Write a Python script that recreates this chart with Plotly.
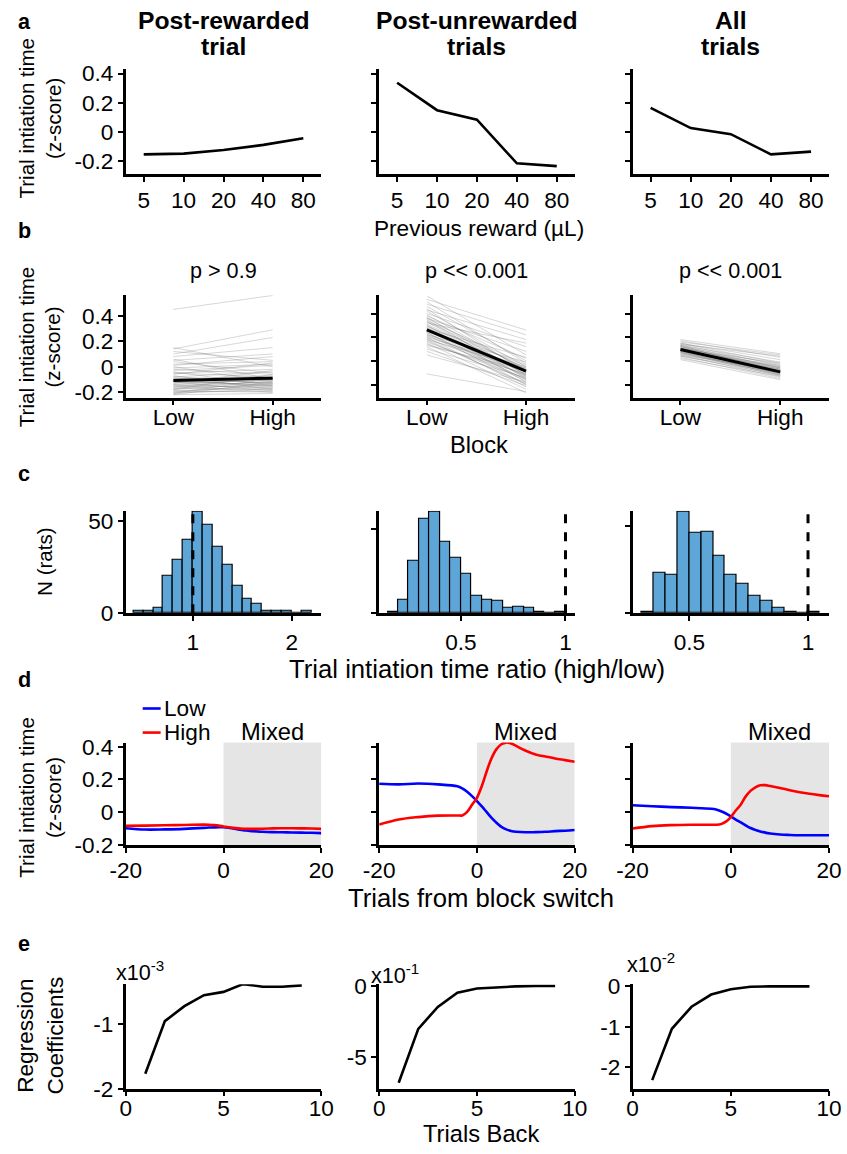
import plotly.graph_objects as go

W, H = 847, 1154

# ---------------- data ----------------
reward_labels = ['5', '10', '20', '40', '80']
a_post_rewarded = [-0.156, -0.151, -0.126, -0.091, -0.045]
a_post_unrewarded = [0.337, 0.148, 0.083, -0.218, -0.237]
a_all = [0.164, 0.025, -0.017, -0.156, -0.137]

block_labels = ['Low', 'High']
b1_low = [0.45, 0.15, 0.14, 0.12, 0.10, 0.08, 0.06, 0.05, 0.04, 0.02, 0.01, 0.00, -0.01, -0.02, -0.03,
          -0.04, -0.05, -0.05, -0.06, -0.07, -0.08, -0.08, -0.09, -0.10, -0.10, -0.11, -0.12, -0.12,
          -0.13, -0.13, -0.14, -0.15, -0.15, -0.16, -0.16, -0.17, -0.17, -0.18, -0.18, -0.19, -0.19,
          -0.20, -0.20, -0.21, -0.21, -0.22, -0.22, -0.14, -0.11, -0.09]
b1_high = [0.56, 0.00, 0.29, 0.05, 0.23, 0.15, -0.10, 0.10, -0.05, 0.04, 0.08, -0.12, 0.02, -0.06, 0.01,
           -0.15, -0.02, -0.08, 0.03, -0.18, -0.04, -0.11, -0.13, -0.07, -0.16, -0.09, -0.14, -0.19,
           -0.10, -0.03, -0.17, -0.12, -0.20, -0.08, -0.15, -0.11, -0.18, -0.13, -0.06, -0.16, -0.20,
           -0.14, -0.19, -0.09, -0.17, -0.12, -0.21, -0.10, -0.15, -0.13]
b1_mean = [-0.108, -0.090]
b2_low = [0.55, 0.52, 0.50, 0.48, 0.46, 0.44, 0.43, 0.42, 0.40, 0.39, 0.38, 0.37, 0.36, 0.35, 0.34,
          0.33, 0.32, 0.31, 0.30, 0.30, 0.29, 0.28, 0.27, 0.26, 0.26, 0.25, 0.24, 0.23, 0.22, 0.22,
          0.21, 0.20, 0.19, 0.18, 0.17, 0.16, 0.15, 0.14, 0.13, 0.12, 0.10, 0.08, 0.05, -0.11, 0.28,
          0.24, 0.20, 0.33, 0.36, 0.18]
b2_high = [0.05, 0.26, -0.02, 0.22, 0.00, -0.10, 0.18, -0.05, 0.12, -0.08, 0.02, -0.12, 0.08, -0.15,
           -0.03, -0.06, 0.15, -0.09, -0.18, -0.11, -0.04, -0.14, 0.03, -0.07, -0.16, -0.10, -0.20,
           -0.13, -0.01, -0.17, -0.09, -0.22, -0.12, -0.06, -0.19, -0.15, -0.24, -0.11, -0.08, -0.27,
           -0.14, -0.21, -0.18, -0.26, -0.13, -0.16, -0.05, -0.12, -0.07, -0.20]
b2_mean = [0.262, -0.087]
b3_low = [0.18, 0.17, 0.16, 0.15, 0.15, 0.14, 0.14, 0.13, 0.13, 0.12, 0.12, 0.11, 0.11, 0.10, 0.10,
          0.10, 0.09, 0.09, 0.09, 0.08, 0.08, 0.08, 0.07, 0.07, 0.07, 0.06, 0.06, 0.05, 0.05, 0.04,
          0.04, 0.03, 0.02, 0.01, 0.11, 0.12, 0.10, 0.09, 0.08, 0.13]
b3_high = [0.06, 0.03, 0.05, -0.02, 0.01, -0.04, 0.04, -0.06, -0.01, -0.08, -0.03, -0.05, -0.10,
           -0.07, -0.02, -0.09, -0.04, -0.11, -0.06, -0.08, -0.12, -0.05, -0.10, -0.07, -0.13, -0.09,
           -0.11, -0.14, -0.08, -0.12, -0.10, -0.15, -0.13, -0.16, -0.06, -0.09, -0.11, -0.07, -0.12, -0.10]
b3_mean = [0.096, -0.093]

c1_bin_left = [0.4, 0.5, 0.6, 0.7, 0.8, 0.9, 1.0, 1.1, 1.2, 1.3, 1.4, 1.5, 1.6, 1.7, 1.8, 1.9, 2.0, 2.1]
c1_counts = [1, 1, 3, 20, 29, 40, 55, 48, 36, 26, 15, 8, 5, 1, 1, 1, 0, 1]
c1_width = 0.1
c2_bin_left = [0.15, 0.20, 0.25, 0.30, 0.35, 0.40, 0.45, 0.50, 0.55, 0.60, 0.65, 0.70, 0.75, 0.80,
               0.85, 0.90, 0.95]
c2_counts = [1, 8, 31, 56, 60, 42, 33, 23, 10, 8, 7, 3, 4, 3, 1, 0, 1]
c2_width = 0.05
c3_bin_left = [0.30, 0.35, 0.40, 0.45, 0.50, 0.55, 0.60, 0.65, 0.70, 0.75, 0.80, 0.85, 0.90, 0.95, 1.00]
c3_counts = [1, 23, 22, 58, 46, 47, 33, 22, 17, 10, 7, 3, 1, 0, 1]
c3_width = 0.05

trials = [-20, -16, -12, -8, -4, -3, -2, -1, 0, 1, 2, 3, 4, 5, 6, 7, 8, 10, 12, 14, 16, 18, 20]
d1_low = [-0.098, -0.106, -0.105, -0.102, -0.096, -0.094, -0.093, -0.092, -0.092, -0.095, -0.100,
          -0.105, -0.110, -0.113, -0.116, -0.118, -0.120, -0.122, -0.123, -0.124, -0.125, -0.126, -0.128]
d1_high = [-0.084, -0.082, -0.080, -0.078, -0.076, -0.077, -0.079, -0.082, -0.087, -0.092, -0.096,
           -0.099, -0.101, -0.102, -0.102, -0.102, -0.101, -0.099, -0.098, -0.098, -0.099, -0.100, -0.102]
d2_low = [0.174, 0.170, 0.175, 0.170, 0.158, 0.145, 0.125, 0.098, 0.068, 0.035, 0.000, -0.035,
          -0.065, -0.090, -0.105, -0.115, -0.120, -0.123, -0.122, -0.120, -0.116, -0.113, -0.109]
d2_high = [-0.076, -0.045, -0.030, -0.021, -0.020, -0.020, 0.002, 0.045, 0.088, 0.160, 0.250, 0.330,
           0.385, 0.415, 0.425, 0.420, 0.405, 0.375, 0.352, 0.340, 0.328, 0.318, 0.308]
d3_low = [0.042, 0.036, 0.031, 0.027, 0.021, 0.016, 0.006, -0.008, -0.026, -0.045, -0.062, -0.080,
          -0.097, -0.108, -0.118, -0.125, -0.130, -0.136, -0.139, -0.141, -0.141, -0.141, -0.141]
d3_high = [-0.100, -0.085, -0.079, -0.077, -0.077, -0.077, -0.073, -0.058, -0.030, 0.010, 0.045,
           0.095, 0.130, 0.152, 0.164, 0.165, 0.160, 0.148, 0.134, 0.122, 0.112, 0.104, 0.097]

trials_back = [1, 2, 3, 4, 5, 6, 7, 8, 9]
e_post_rewarded = [-1.77, -0.96, -0.73, -0.56, -0.51, -0.39, -0.43, -0.43, -0.41]
e_post_unrewarded = [-6.77, -3.00, -1.46, -0.47, -0.17, -0.09, -0.02, 0.00, 0.00]
e_all = [-2.31, -1.05, -0.51, -0.21, -0.08, -0.02, -0.01, -0.01, -0.01]

# ---------------- placement helpers ----------------
# the photographed page shows a small border around the figure; targets below are
# positions in the final picture and are converted to page pixels here.
SX, OX = 0.968, 14.0
SY, OY = 0.977, 12.7
FS = 1 / 0.972


def tx(t):
    return (t - OX) / SX


def ty(t):
    return (t - OY) / SY


def fs(s):
    return round(s * FS, 1)


NARROW = "Liberation Sans Narrow, Arial Narrow, Liberation Sans, Arial, sans-serif"
SANS = "Liberation Sans, Arial, Helvetica, sans-serif"
TICK_SIZE = fs(22)
BLUE_BAR = '#5fa6d8'
LOW_COLOR = '#0000ff'
HIGH_COLOR = '#ff0000'

cols = [(124, 320), (378, 574), (632, 829)]
rows = {'a': (72, 176), 'b': (297, 399), 'c': (512, 614), 'd': (743, 845), 'e': (984, 1088)}
x_standoff = {'a': -1, 'b': -7, 'c': 2, 'd': -2, 'e': -8}

fig = go.Figure()
layout_axes = {}


def ids(k):
    return ('x' if k == 1 else f'x{k}'), ('y' if k == 1 else f'y{k}')


def add_axes(k, col, row, xr, yr, xtv=None, xtt=None, ytv=None, ytt=None, xtype='linear',
             show_xlabels=True, show_ylabels=True):
    xid, yid = ids(k)
    x0, x1 = cols[col]
    y0, y1 = rows[row]
    common = dict(showline=True, linecolor='black', linewidth=2.6, ticks='outside', ticklen=5,
                  tickwidth=2, tickcolor='black', showgrid=False, zeroline=False,
                  tickfont=dict(family=NARROW, size=TICK_SIZE, color='black'), fixedrange=True)
    xa = dict(domain=[tx(x0) / W, tx(x1) / W], range=xr, anchor=yid, type=xtype,
              showticklabels=show_xlabels, ticklabelstandoff=x_standoff[row], **common)
    if xtv is not None:
        xa['tickvals'] = xtv
    if xtt is not None:
        xa['ticktext'] = xtt
    ya = dict(domain=[1 - ty(y1) / H, 1 - ty(y0) / H], range=yr, anchor=xid,
              showticklabels=show_ylabels, **common)
    if ytv is not None:
        ya['tickvals'] = ytv
    if ytt is not None:
        ya['ticktext'] = ytt
    layout_axes['xaxis' if k == 1 else f'xaxis{k}'] = xa
    layout_axes['yaxis' if k == 1 else f'yaxis{k}'] = ya


def line(k, x, y, color='black', width=2.6, name=None, shape='linear'):
    xid, yid = ids(k)
    fig.add_trace(go.Scatter(x=x, y=y, mode='lines', xaxis=xid, yaxis=yid, name=name,
                             showlegend=False, hoverinfo='skip',
                             line=dict(color=color, width=width, shape=shape)))


# ---- row a ----
a_ticks = [-0.2, 0, 0.2, 0.4]
a_ticktext = ['-0.2', '0', '0.2', '0.4']
for i, series in enumerate([a_post_rewarded, a_post_unrewarded, a_all]):
    k = 1 + i
    add_axes(k, i, 'a', [-0.45, 4.45], [-0.29, 0.428], ytv=a_ticks, ytt=a_ticktext,
             xtype='category', show_ylabels=(i == 0))
    line(k, reward_labels, series)

# ---- row b ----
b_ranges = [[-0.242, 0.562], [-0.31, 0.555], [-0.31, 0.555]]
for i, (lo, hi, mean) in enumerate([(b1_low, b1_high, b1_mean), (b2_low, b2_high, b2_mean),
                                     (b3_low, b3_high, b3_mean)]):
    k = 4 + i
    add_axes(k, i, 'b', [-0.48, 1.49], b_ranges[i], ytv=a_ticks, ytt=a_ticktext,
             xtype='category', show_ylabels=(i == 0))
    for l, h in zip(lo, hi):
        line(k, block_labels, [l, h], color='rgba(110,110,110,0.28)', width=1)
    line(k, block_labels, mean, width=3)

# ---- row c ----
c_x_ranges = [[0.322, 2.298], [0.109, 1.044], [0.26, 1.089]]
c_y_ranges = [[0, 55.5], [0, 60.5], [0, 58.8]]
c_xticks = [[1, 2], [0.5, 1], [0.5, 1]]
for i, (left, counts, width) in enumerate([(c1_bin_left, c1_counts, c1_width),
                                            (c2_bin_left, c2_counts, c2_width),
                                            (c3_bin_left, c3_counts, c3_width)]):
    k = 7 + i
    xid, yid = ids(k)
    add_axes(k, i, 'c', c_x_ranges[i], c_y_ranges[i], xtv=c_xticks[i],
             xtt=[str(v) for v in c_xticks[i]], ytv=[0, 50], ytt=['0', '50'], show_ylabels=(i == 0))
    fig.add_trace(go.Bar(x=[v + width / 2 for v in left], y=counts, width=width, xaxis=xid, yaxis=yid,
                         marker=dict(color=BLUE_BAR, line=dict(color='black', width=1.2)),
                         showlegend=False, hoverinfo='skip'))

# ---- row d ----
d_sets = [(d1_low, d1_high), (d2_low, d2_high), (d3_low, d3_high)]
for i, (lo, hi) in enumerate(d_sets):
    k = 10 + i
    add_axes(k, i, 'd', [-20, 20], [-0.2, 0.425], xtv=[-20, 0, 20], xtt=['-20', '0', '20'],
             ytv=a_ticks, ytt=a_ticktext, show_ylabels=(i == 0))
    line(k, trials, lo, color=LOW_COLOR, width=2.6, name='Low', shape='spline')
    line(k, trials, hi, color=HIGH_COLOR, width=2.6, name='High', shape='spline')

# ---- row e ----
e_specs = [
    (e_post_rewarded, [-2, -0.394], [-2, -1], ['-2', '-1']),
    (e_post_unrewarded, [-7.19, 0.12], [-5, 0], ['-5', '0']),
    (e_all, [-2.52, 0.04], [-2, -1, 0], ['-2', '-1', '0']),
]
for i, (vals, yr, ytv, ytt) in enumerate(e_specs):
    k = 13 + i
    add_axes(k, i, 'e', [0, 10], yr, xtv=[0, 5, 10], xtt=['0', '5', '10'], ytv=ytv, ytt=ytt)
    line(k, trials_back, vals)

# ---------------- shapes ----------------
shapes = []
for i in range(3):
    k = 10 + i
    xid, yid = ids(k)
    shapes.append(dict(type='rect', xref=xid, yref=f'{yid} domain', x0=0, x1=20, y0=0, y1=1,
                       fillcolor='#e5e5e5', line=dict(width=0), layer='below'))
for i in range(3):
    k = 7 + i
    xid, yid = ids(k)
    shapes.append(dict(type='line', xref=xid, yref=f'{yid} domain', x0=1, x1=1, y0=0, y1=1,
                       line=dict(color='black', width=3, dash='dash')))

# ---------------- annotations ----------------
ann = []


def text(x, y, s, size=21, family=NARROW, angle=0, xanchor='center', yanchor='middle', bold=False,
         min_y=0.0, max_y=H):
    if bold:
        s = f'<b>{s}</b>'
    py = min(max(ty(y), min_y), max_y)
    ann.append(dict(x=max(tx(x), 0) / W, y=1 - py / H, xref='paper', yref='paper', text=s,
                    showarrow=False, textangle=angle, xanchor=xanchor, yanchor=yanchor,
                    font=dict(family=family, size=fs(size), color='black')))


# legend (drawn as short line keys + labels)
for label, color, ly in [('Low', LOW_COLOR, 709), ('High', HIGH_COLOR, 733)]:
    shapes.append(dict(type='line', xref='paper', yref='paper', x0=tx(141) / W, x1=tx(159) / W,
                       y0=1 - ty(ly) / H, y1=1 - ty(ly) / H, line=dict(color=color, width=2.6)))
    text(160, ly, label, size=22, xanchor='left')

# panel letters
for letter, y in [('a', 14), ('b', 233), ('c', 475), ('d', 680), ('e', 943)]:
    text(8, y, letter, size=21, family=SANS, xanchor='left', bold=True, min_y=12)

# column titles (two lines each)
titles = [('Post-rewarded', 'trial'), ('Post-unrewarded', 'trials'), ('All', 'trials')]
for i, (t1, t2) in enumerate(titles):
    cx = (cols[i][0] + cols[i][1]) / 2
    text(cx, 22, t1, size=24, bold=True, min_y=11)
    text(cx, 49, t2, size=24, bold=True)

# p-values
for i, t in enumerate(['p &gt; 0.9', 'p &lt;&lt; 0.001', 'p &lt;&lt; 0.001']):
    cx = (cols[i][0] + cols[i][1]) / 2
    text(cx, 272, t, size=21)

# x titles
text(478, 231, 'Previous reward (µL)', size=22)
text(478, 446, 'Block', size=23)
text(476, 670, 'Trial intiation time ratio (high/low)', size=25)
text(480, 898, 'Trials from block switch', size=25)
text(480, 1142, 'Trials Back', size=23, max_y=H - 7)

# y titles
text(38, 120, 'Trial intiation time<br>(z-score)', size=20, family=SANS, angle=-90)
text(38, 348, 'Trial intiation time<br>(z-score)', size=20, family=SANS, angle=-90)
text(42, 562, 'N (rats)', size=20, family=SANS, angle=-90)
text(38, 797, 'Trial intiation time<br>(z-score)', size=20, family=SANS, angle=-90)
text(38, 1035, 'Regression<br>Coefficients', size=22, family=SANS, angle=-90)

# Mixed labels
for i in range(3):
    k = 10 + i
    xid, yid = ids(k)
    ann.append(dict(x=10, y=1, xref=xid, yref=f'{yid} domain', text='Mixed', showarrow=False,
                    xanchor='center', yanchor='bottom', yshift=-4,
                    font=dict(family=NARROW, size=fs(23), color='black')))

# exponent labels
text(112, 971, 'x10<sup>-3</sup>', size=21, xanchor='left')
text(368, 974, 'x10<sup>-1</sup>', size=21, xanchor='left')
text(624, 963, 'x10<sup>-2</sup>', size=21, xanchor='left')

fig.update_layout(
    width=W, height=H, margin=dict(l=0, r=0, t=0, b=0),
    paper_bgcolor='white', plot_bgcolor='white',
    shapes=shapes, annotations=ann,
    showlegend=False,
    bargap=0,
    **layout_axes,
)

fig.write_html('out.html', config={'displayModeBar': False},
               post_script="document.body.style.margin='0';document.body.style.padding='0';"
                           "document.documentElement.style.overflow='hidden';")
